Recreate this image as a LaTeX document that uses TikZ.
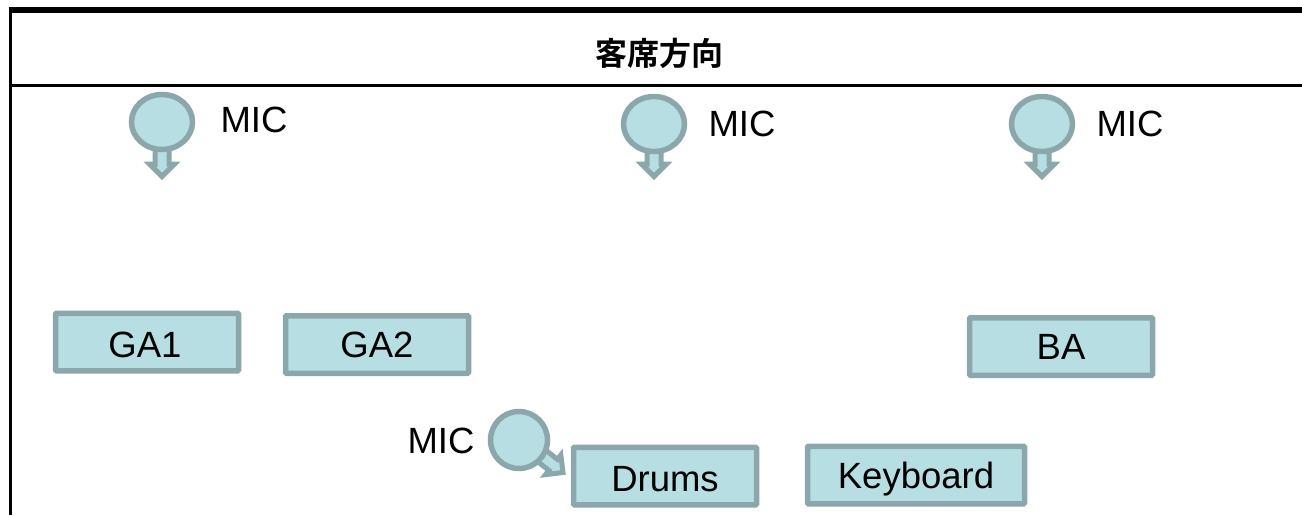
\documentclass[tikz,border=0pt]{standalone}
\usepackage{fontspec}
\setmainfont{Liberation Sans}
\newfontfamily\cjk{Noto Sans CJK JP}[BoldFont={Noto Sans CJK JP Bold}]
\usetikzlibrary{shapes.arrows,shapes.geometric}
\definecolor{partfill}{HTML}{B7DEE2}
\definecolor{partline}{HTML}{8BA7AB}
\tikzset{
    textlabel/.style={inner sep=0pt, font=\fontsize{36.5}{40}\selectfont},
    partbox/.style={draw=partline, fill=partfill, line width=5.5pt, rounded corners=1pt, inner sep=0pt, minimum height=57.5pt, textlabel, text height=26.5pt, text depth=0pt},
    micbulb/.style={ellipse, draw=partline, fill=partfill, line width=5.5pt, inner sep=0pt},
    micarrow/.style={single arrow, draw=partline, fill=partfill, line width=5pt, inner xsep=0pt, inner ysep=4.5pt,
        single arrow head extend=5.5pt, single arrow head indent=0pt, minimum height=42pt, anchor=tip, outer sep=0pt}
}
\begin{document}
\begin{tikzpicture}[x=1pt, y=-1pt]

    % Page size of the reference
    \useasboundingbox (0,0) rectangle (1302,515);

    % Outer frame and the audience strip
    \coordinate (TL) at (8.5,10);
    \coordinate (TR) at (1302,10);
    \coordinate (LT) at (10,10);
    \coordinate (BL) at (10,515);
    \coordinate (ML) at (10,85);
    \coordinate (MR) at (1302,85);
    \draw[line width=3pt] (LT) -- (BL);
    \draw[line width=6pt] (TL) -- (TR);
    \draw[line width=3pt] (ML) -- (MR);
    \node[inner sep=0pt, font=\cjk\bfseries\fontsize{32}{36}\selectfont] (Audience) at (659,53) {客席方向};

    % Microphones facing down, with their labels
    \foreach \i/\x/\y/\lx/\ly in {1/162/122/254/120, 2/654/124/742/124, 3/1042/124/1130/124} {
        \node[micarrow, rotate=-90] (Arrow\i) at (\x,176.5) {};
        \node[micbulb, minimum width=61pt, minimum height=55pt] (Mic\i) at (\x,\y) {};
        \node[textlabel] (MicText\i) at (\lx,\ly) {MIC};
    }

    % Microphone at the drums
    \node[micarrow, rotate=-38] (Arrow4) at (563,472.5) {};
    \node[micbulb, minimum width=57pt, minimum height=57pt] (Mic4) at (519,440) {};
    \node[textlabel] (MicText4) at (441,441) {MIC};

    % Instruments
    \foreach \name/\x/\y/\w/\dx/\dy/\txt in {GA1/147/342/183/-4/-2/GA1, GA2/377/344.5/183/0/0/GA2, BA/1061/346.5/183/0/0/BA, Drums/665/476/183/0/-2/Drums, Keys/916/475/217/0/0/Keyboard} {
        \node[partbox, minimum width=\w pt] (\name) at (\x,\y) {\kern\dx pt\raisebox{\dy pt}{\txt}};
    }

\end{tikzpicture}
\end{document}
